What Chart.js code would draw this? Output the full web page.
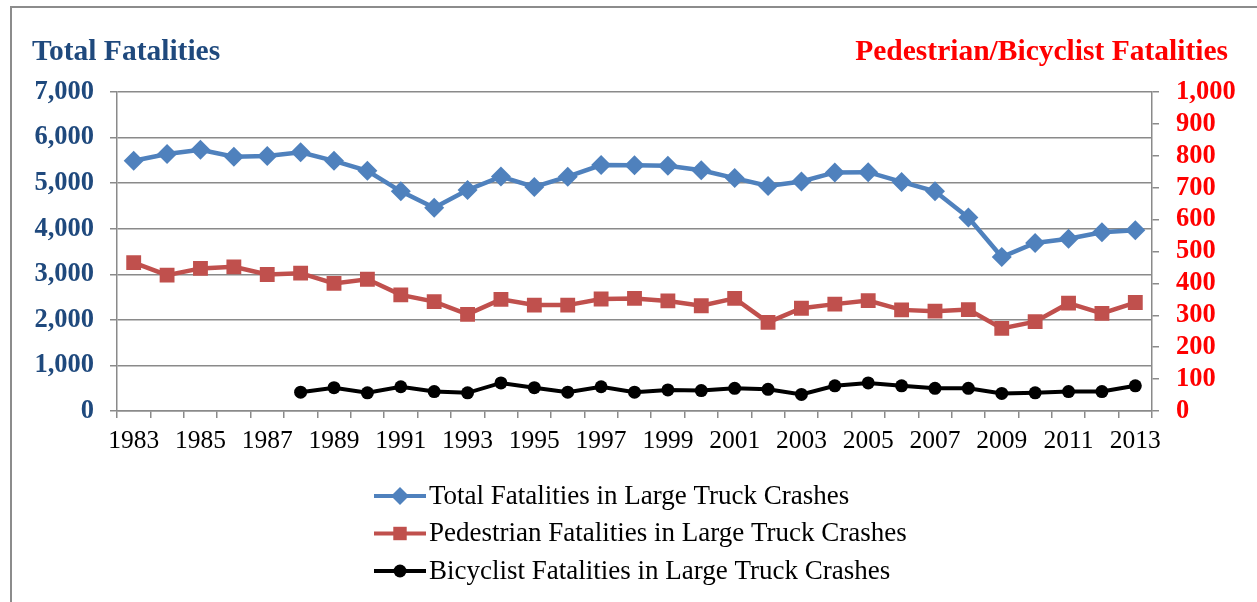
<!DOCTYPE html>
<html>
<head>
<meta charset="utf-8">
<script src="https://cdn.jsdelivr.net/npm/chart.js@4/dist/chart.umd.min.js"></script>
<style>
  html, body { margin: 0; padding: 0; background: #fff; }
  #wrap { position: relative; width: 1257px; height: 602px; }
</style>
</head>
<body>
<div id="wrap"><canvas id="c" width="1257" height="602"></canvas></div>
<script>
const years = ['1983','1984','1985','1986','1987','1988','1989','1990','1991','1992','1993','1994','1995','1996','1997','1998','1999','2000','2001','2002','2003','2004','2005','2006','2007','2008','2009','2010','2011','2012','2013'];
const totalFatalities = [5491,5640,5734,5579,5598,5679,5490,5272,4821,4462,4849,5144,4918,5142,5398,5395,5380,5282,5111,4939,5036,5235,5240,5027,4822,4245,3380,3686,3781,3921,3964];
const pedestrianFatalities = [465,426,447,452,428,432,400,413,364,343,303,350,332,332,351,353,345,330,353,278,322,335,346,317,313,318,259,280,338,306,340];
const bicyclistFatalities = [null,null,null,null,null,59,73,57,76,61,57,88,73,59,76,59,66,64,71,68,52,79,88,79,71,71,55,57,61,61,79];
const leftTickLabels = ['0','1,000','2,000','3,000','4,000','5,000','6,000','7,000'];
const rightTickLabels = ['0','100','200','300','400','500','600','700','800','900','1,000'];
const seriesNames = ['Total Fatalities in Large Truck Crashes','Pedestrian Fatalities in Large Truck Crashes','Bicyclist Fatalities in Large Truck Crashes'];
const leftTitle = 'Total Fatalities';
const rightTitle = 'Pedestrian/Bicyclist Fatalities';

const BLUE = '#4F81BD', RED = '#C0504D', BLACK = '#000000';
const NAVY = '#1F497D', BRIGHTRED = '#FF0000', GRID = '#8a8a8a';
const SERIF = '"Liberation Serif", "Times New Roman", serif';

function drawMarker(ctx, style, x, y, r, color) {
  ctx.save();
  ctx.fillStyle = color;
  ctx.beginPath();
  if (style === 'rectRot') {
    ctx.moveTo(x, y - r); ctx.lineTo(x + r, y); ctx.lineTo(x, y + r); ctx.lineTo(x - r, y); ctx.closePath();
  } else if (style === 'rect') {
    const h = r * Math.SQRT1_2;
    ctx.rect(x - h, y - h, 2 * h, 2 * h);
  } else {
    ctx.arc(x, y, r, 0, Math.PI * 2);
  }
  ctx.fill();
  ctx.restore();
}

const decorPlugin = {
  id: 'decor',
  beforeDraw(chart) {
    const ctx = chart.ctx;
    ctx.save();
    ctx.fillStyle = '#fff';
    ctx.fillRect(0, 0, chart.width, chart.height);
    ctx.strokeStyle = '#8c8c8c';
    ctx.lineWidth = 2;
    ctx.beginPath();
    ctx.moveTo(11, 602); ctx.lineTo(11, 7); ctx.lineTo(1257, 7);
    ctx.stroke();
    ctx.font = 'bold 29.5px ' + SERIF;
    ctx.textBaseline = 'alphabetic';
    ctx.fillStyle = NAVY;
    ctx.textAlign = 'left';
    ctx.fillText(leftTitle, 32, 60);
    ctx.fillStyle = BRIGHTRED;
    ctx.textAlign = 'right';
    ctx.fillText(rightTitle, 1228, 60);
    ctx.restore();
  },
  afterDraw(chart) {
    const ctx = chart.ctx;
    const styles = [
      {c: BLUE, p: 'rectRot', r: 9},
      {c: RED, p: 'rect', r: 9.5},
      {c: BLACK, p: 'circle', r: 6.5}
    ];
    ctx.save();
    chart.data.datasets.forEach((ds, i) => {
      const y = 496 + i * 37.5;
      const s = styles[i];
      ctx.strokeStyle = s.c;
      ctx.lineWidth = 4;
      ctx.beginPath();
      ctx.moveTo(374, y); ctx.lineTo(426, y);
      ctx.stroke();
      drawMarker(ctx, s.p, 400, y, s.r, s.c);
      ctx.fillStyle = '#000';
      ctx.font = '27px ' + SERIF;
      ctx.textAlign = 'left';
      ctx.textBaseline = 'alphabetic';
      ctx.fillText(ds.label, 429, y + 7.5);
    });
    ctx.restore();
  }
};

new Chart(document.getElementById('c'), {
  type: 'line',
  data: {
    labels: years,
    datasets: [
      {
        label: seriesNames[0], data: totalFatalities, yAxisID: 'y',
        borderColor: BLUE, backgroundColor: BLUE, borderWidth: 4.5,
        pointStyle: 'rectRot', pointRadius: 10, pointBorderWidth: 0,
        pointBackgroundColor: BLUE, tension: 0
      },
      {
        label: seriesNames[1], data: pedestrianFatalities, yAxisID: 'y1',
        borderColor: RED, backgroundColor: RED, borderWidth: 4.5,
        pointStyle: 'rect', pointRadius: 10.5, pointBorderWidth: 0,
        pointBackgroundColor: RED, tension: 0
      },
      {
        label: seriesNames[2], data: bicyclistFatalities, yAxisID: 'y1',
        borderColor: BLACK, backgroundColor: BLACK, borderWidth: 4,
        pointStyle: 'circle', pointRadius: 6.5, pointBorderWidth: 0,
        pointBackgroundColor: BLACK, tension: 0
      }
    ]
  },
  options: {
    responsive: false,
    animation: false,
    layout: { padding: { top: 92, left: 0, right: 0, bottom: 0 } },
    plugins: { legend: { display: false }, tooltip: { enabled: false }, title: { display: false } },
    scales: {
      x: {
        offset: true,
        afterFit: s => { s.height = 191; },
        grid: { drawOnChartArea: false, drawTicks: true, tickLength: 7, color: GRID, lineWidth: 1.5, offset: true },
        border: { color: GRID, width: 1.5 },
        ticks: {
          autoSkip: false, maxRotation: 0, padding: 8, color: '#000',
          font: { family: SERIF, size: 25.5 },
          callback: (v, i) => (i % 2 === 0 ? years[i] : '')
        }
      },
      y: {
        position: 'left', min: 0, max: 7000,
        afterFit: s => { s.width = 117; },
        grid: { color: GRID, lineWidth: 1.5, tickLength: 7, drawTicks: true },
        border: { color: GRID, width: 1.5 },
        ticks: {
          stepSize: 1000, autoSkip: false, padding: 16, color: NAVY,
          font: { family: SERIF, size: 26.5, weight: 'bold' },
          callback: (v, i) => leftTickLabels[i]
        }
      },
      y1: {
        position: 'right', min: 0, max: 1000,
        afterFit: s => { s.width = 105; },
        grid: { drawOnChartArea: false, color: GRID, lineWidth: 1.5, tickLength: 7, drawTicks: true },
        border: { color: GRID, width: 1.5 },
        ticks: {
          stepSize: 100, autoSkip: false, padding: 17, color: BRIGHTRED,
          font: { family: SERIF, size: 26.5, weight: 'bold' },
          callback: (v, i) => rightTickLabels[i]
        }
      }
    }
  },
  plugins: [decorPlugin]
});
</script>
</body>
</html>
